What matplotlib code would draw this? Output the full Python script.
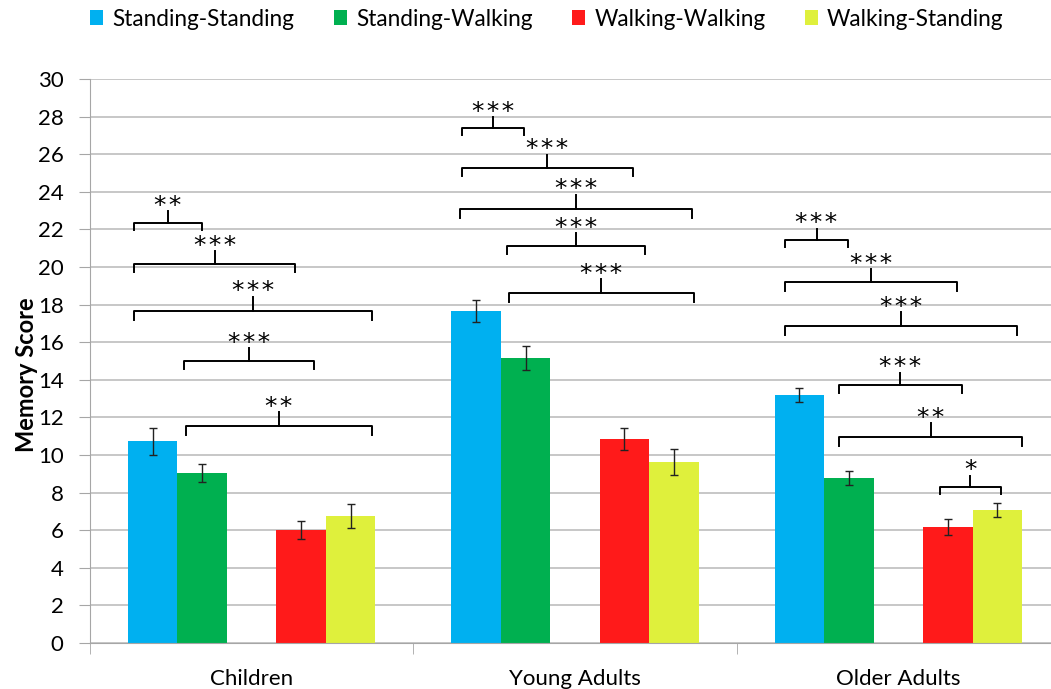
import numpy as np
import matplotlib
matplotlib.use("Agg")
import matplotlib.pyplot as plt

plt.rcParams['font.family'] = ['Lato', 'DejaVu Sans']

groups = ["Children", "Young Adults", "Older Adults"]
conditions = ["Standing-Standing", "Standing-Walking", "Walking-Walking", "Walking-Standing"]
colors = ["#00B0F0", "#00B050", "#FF1A1A", "#DFF03C"]

# mean memory score per condition (rows) and group (columns)
means = [
    [10.74, 17.66, 13.19],
    [9.04, 15.16, 8.78],
    [6.02, 10.85, 6.17],
    [6.78, 9.63, 7.08],
]
errs = [
    [0.72, 0.61, 0.37],
    [0.48, 0.64, 0.37],
    [0.47, 0.56, 0.40],
    [0.64, 0.69, 0.37],
]

# significance brackets: group, x start, x end (offset from group centre), y level, stars
br_group = [0, 0, 0, 0, 0,
            1, 1, 1, 1, 1,
            2, 2, 2, 2, 2, 2]
br_x0 = [-0.363, -0.363, -0.363, -0.209, -0.203,
         -0.350, -0.350, -0.356, -0.211, -0.205,
         -0.349, -0.349, -0.349, -0.185, -0.185, 0.128]
br_x1 = [-0.154, 0.134, 0.372, 0.192, 0.372,
         -0.158, 0.178, 0.361, 0.216, 0.367,
         -0.157, 0.180, 0.366, 0.196, 0.384, 0.316]
br_y = [22.34, 20.16, 17.66, 15.0, 11.54,
        27.39, 25.27, 23.09, 21.12, 18.62,
        21.44, 19.2, 16.86, 13.72, 10.96, 8.30]
br_stars = ["**", "***", "***", "***", "**",
            "***", "***", "***", "***", "***",
            "***", "***", "***", "***", "**", "*"]

fig = plt.figure(figsize=(10.51, 6.89), dpi=100)
ax = fig.add_axes([90/1051, 46/689, 970/1051, 564/689])

w = 0.153
slot = [-2, -1, 1, 2]   # the middle slot stays empty
x = np.arange(len(groups))
for i in range(4):
    ax.bar(x + slot[i]*w, means[i], w, color=colors[i], label=conditions[i], zorder=2)
    ax.errorbar(x + slot[i]*w, means[i], yerr=errs[i], fmt='none', ecolor='#222222',
                elinewidth=1, capsize=3, capthick=1, zorder=3)

for g, a, b, y, s in zip(br_group, br_x0, br_x1, br_y, br_stars):
    a = g + a
    b = g + b
    m = (a + b) / 2
    d = 0.35 + 0.2*(b - a)
    t = 0.55 + 0.3*(b - a)
    ax.plot([a, a, b, b], [y - d, y, y, y - d], color='black', lw=1.4, zorder=4,
            solid_joinstyle='round')
    ax.plot([m, m], [y, y + t], color='black', lw=1.4, zorder=4)
    ax.text(m, y + t - 0.1, "\u200a".join(s), ha='center', va='baseline', fontsize=18,
            family='DejaVu Sans', zorder=4)

ax.set_xlim(-0.5, 2.5)
ax.set_ylim(0, 30)
ax.set_yticks(np.arange(0, 31, 2))
ax.yaxis.grid(True, color='#BEBEBE', lw=1.2, zorder=0)
ax.set_axisbelow(True)
ax.set_xticks(x)
ax.set_xticklabels(groups, fontsize=16)
ax.set_xticks([-0.5, 0.5, 1.5, 2.5], minor=True)
ax.tick_params(axis='x', which='major', length=0, pad=19)
ax.tick_params(axis='x', which='minor', length=8, color='#A6A6A6')
ax.tick_params(axis='y', length=8, color='#A6A6A6', labelsize=16, pad=11)
for side in ['top', 'right']:
    ax.spines[side].set_visible(False)
ax.spines['left'].set_color('#A6A6A6')
ax.spines['bottom'].set_color('#A6A6A6')
ax.set_ylabel("Memory Score", fontsize=17, fontweight='bold')
ax.yaxis.set_label_coords(-52/970, 0.475)

fig.legend(loc='center left', bbox_to_anchor=(90/1051, 1 - 19/689), ncol=4, frameon=False,
           fontsize=16.3, handlelength=0.58, handleheight=0.58, handletextpad=0.4,
           columnspacing=1.75, borderaxespad=0, borderpad=0)

fig.savefig("out.png", dpi=100)
